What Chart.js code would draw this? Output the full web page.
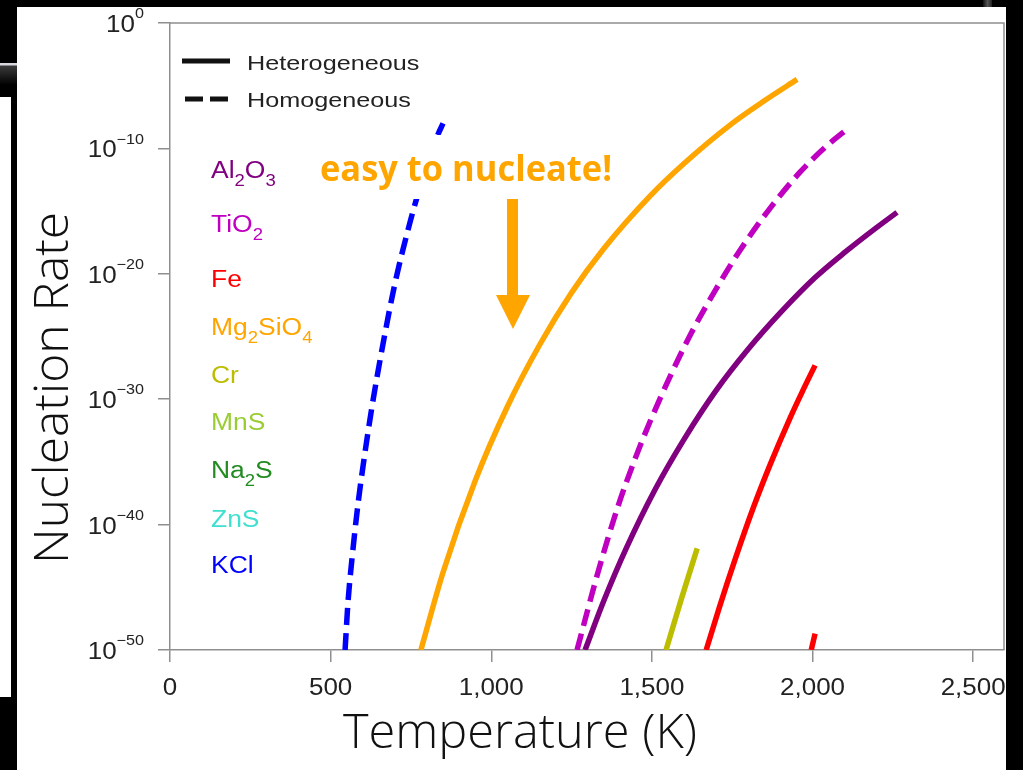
<!DOCTYPE html>
<html>
<head>
<meta charset="utf-8">
<script src="https://cdn.jsdelivr.net/npm/chart.js@4.4.1/dist/chart.umd.min.js"></script>
<style>
  html, body { margin: 0; padding: 0; background: #000; width: 1023px; height: 770px; overflow: hidden; }
  #panel { position: absolute; left: 17px; top: 7px; width: 989px; height: 763px; background: #fff; }
  #edgeWhite { position: absolute; left: 0; top: 97px; width: 11px; height: 600px; background: #fff; }
  #edgeGlow { position: absolute; left: 0; top: 63px; width: 17px; height: 34px;
              background: linear-gradient(#d8d8e0 0, #d8d8e0 2px, #3a3a3a 3px, #000 22px); }
  #topGlow { position: absolute; left: 983px; top: 0; width: 9px; height: 7px;
             background: linear-gradient(90deg, #111, #555, #222); }
  canvas { position: absolute; left: 0; top: 0; }
</style>
</head>
<body>
<div id="panel"></div>
<div id="edgeWhite"></div>
<div id="edgeGlow"></div>
<div id="topGlow"></div>
<canvas id="c" width="1023" height="770"></canvas>
<script>
// Axis ticks
const xTickValues = [0, 500, 1000, 1500, 2000, 2500];
const xTickLabels = ['0', '500', '1,000', '1,500', '2,000', '2,500'];
const yTickExponents = [0, -10, -20, -30, -40, -50];

// Nucleation rate curves: temperature (K) and log10 of the rate
const kclHomT   = [545, 554, 567, 585, 605, 630, 663, 700, 747, 790, 834, 850];
const kclHomLog = [-50, -46.2, -42.6, -38.4, -34.6, -30.4, -25.6, -20.8, -15.9, -12.1, -8.9, -8.0];

const mg2sio4HetT   = [781, 850, 950, 1050, 1152, 1250, 1350, 1494, 1600, 1750, 1850, 1952];
const mg2sio4HetLog = [-50, -43.8, -36.5, -30.6, -25.6, -21.5, -18.0, -13.8, -11.2, -8.0, -6.2, -4.5];

const tio2HomT   = [1267, 1330, 1395, 1450, 1494, 1560, 1619, 1700, 1775, 1870, 1961, 2040, 2111];
const tio2HomLog = [-50, -44.0, -38.5, -34.6, -31.8, -28.0, -24.9, -21.2, -18.1, -14.7, -11.9, -9.9, -8.4];

const al2o3HetT   = [1292, 1350, 1420, 1510, 1600, 1700, 1800, 1900, 2008, 2100, 2200, 2263];
const al2o3HetLog = [-50, -46.1, -41.9, -37.2, -33.2, -29.3, -26.0, -23.1, -20.3, -18.3, -16.3, -15.1];

const crHetT   = [1544, 1592, 1641];
const crHetLog = [-50, -45.9, -41.9];

const feHetT   = [1669, 1710, 1760, 1815, 1870, 1930, 1970, 2008];
const feHetLog = [-50, -46.6, -42.7, -38.7, -35.1, -31.5, -29.3, -27.3];

const feHomT   = [1996, 2008];
const feHomLog = [-50, -48.7];

// Species list (underscore marks a subscript character)
const speciesNames  = ['Al_2O_3', 'TiO_2', 'Fe', 'Mg_2SiO_4', 'Cr', 'MnS', 'Na_2S', 'ZnS', 'KCl'];
const speciesColors = ['#800080', '#C000C0', '#FF0000', '#FFA500', '#BDBD00', '#9ACD32', '#228B22', '#40E0D0', '#0000FF'];

const legendLabels = ['Heterogeneous', 'Homogeneous'];
const annotationText = 'easy to nucleate!';
const xTitle = 'Temperature (K)';
const yTitle = 'Nucleation Rate';

// ---------- drawing helpers ----------
const AXIS_GREY = '#8f8f8f';
const LABEL_FONT = '"Liberation Sans", Arial, Helvetica, sans-serif';
const TITLE_FONT = '"Open Sans", "Noto Sans", sans-serif';

function parseChem(s) {
  const runs = [];
  for (let i = 0; i < s.length; i++) {
    if (s[i] === '_') { runs.push({ t: s[i + 1], k: 'sub' }); i++; }
    else if (runs.length && runs[runs.length - 1].k === 'n') runs[runs.length - 1].t += s[i];
    else runs.push({ t: s[i], k: 'n' });
  }
  return runs;
}

// Draws runs of normal / subscript / superscript text, widened by sx.
function drawRuns(ctx, runs, x, y, o) {
  const sx = o.sx || 1;
  const fontFor = k => `${o.weight || 400} ${k === 'n' ? o.size : (o.size * (k === 'sub' ? 0.7 : 0.62)).toFixed(1)}px ${o.family}`;
  ctx.save();
  ctx.fillStyle = o.color;
  ctx.textBaseline = 'alphabetic';
  ctx.textAlign = 'left';
  let w = 0;
  runs.forEach(r => { ctx.font = fontFor(r.k); r.w = ctx.measureText(r.t).width; w += r.w; });
  const start = o.align === 'right' ? x - w * sx : o.align === 'center' ? x - w * sx / 2 : x;
  ctx.translate(start, y);
  ctx.scale(sx, 1);
  let cx = 0;
  runs.forEach(r => {
    ctx.font = fontFor(r.k);
    const dy = r.k === 'sub' ? o.size * 0.33 : r.k === 'sup' ? -o.size * 0.6 : 0;
    ctx.fillText(r.t, cx, dy);
    cx += r.w;
  });
  ctx.restore();
}

// Centred title text stretched along its run to a given length.
function drawTitle(ctx, text, cx, cy, angle, length) {
  ctx.save();
  ctx.font = `300 48px ${TITLE_FONT}`;
  const w = ctx.measureText(text).width;
  ctx.translate(cx, cy);
  ctx.rotate(angle);
  ctx.scale(length / w, 1);
  ctx.fillStyle = '#111';
  ctx.textAlign = 'center';
  ctx.textBaseline = 'alphabetic';
  ctx.fillText(text, 0, 0);
  ctx.restore();
}

const chartDecor = {
  id: 'chartDecor',
  beforeDatasetsDraw(chart) {
    const { ctx, chartArea: a } = chart;
    ctx.save();
    ctx.strokeStyle = AXIS_GREY;
    ctx.lineWidth = 1.5;
    ctx.beginPath();
    ctx.moveTo(a.left, a.top); ctx.lineTo(a.right, a.top); ctx.lineTo(a.right, a.bottom);
    ctx.stroke();
    ctx.restore();
  },
  afterDatasetsDraw(chart) {
    const { ctx, chartArea: a, scales: { x, y } } = chart;

    // tick labels
    xTickValues.forEach((v, i) => {
      drawRuns(ctx, [{ t: xTickLabels[i], k: 'n' }], x.getPixelForValue(v), a.bottom + 45,
               { size: 23, family: LABEL_FONT, color: '#222', sx: 1.13, align: 'center' });
    });
    yTickExponents.forEach(e => {
      const sup = e === 0 ? '0' : '\u2212' + Math.abs(e);
      drawRuns(ctx, [{ t: '10', k: 'n' }, { t: sup, k: 'sup' }], a.left - 26, y.getPixelForValue(e) + 9,
               { size: 23, family: LABEL_FONT, color: '#222', sx: 1.13, align: 'right' });
    });

    // line-style legend
    ctx.save();
    ctx.strokeStyle = '#111';
    ctx.lineWidth = 5;
    ctx.beginPath(); ctx.moveTo(182, 61); ctx.lineTo(230, 61); ctx.stroke();
    ctx.setLineDash([18, 7]);
    ctx.beginPath(); ctx.moveTo(185, 99); ctx.lineTo(229, 99); ctx.stroke();
    ctx.restore();
    drawRuns(ctx, [{ t: legendLabels[0], k: 'n' }], 247, 70, { size: 21, family: LABEL_FONT, color: '#222', sx: 1.2 });
    drawRuns(ctx, [{ t: legendLabels[1], k: 'n' }], 247, 107, { size: 21, family: LABEL_FONT, color: '#222', sx: 1.2 });

    // species colour key
    const baselines = [178, 232, 287, 335, 383, 430, 478, 527, 573];
    speciesNames.forEach((n, i) => {
      drawRuns(ctx, parseChem(n), 211, baselines[i], { size: 23, family: LABEL_FONT, color: speciesColors[i], sx: 1.15 });
    });

    // annotation with its arrow
    ctx.save();
    ctx.fillStyle = '#fff';
    ctx.fillRect(312, 135, 310, 64);
    ctx.restore();
    ctx.save();
    ctx.font = `700 36px ${TITLE_FONT}`;
    const aw = ctx.measureText(annotationText).width;
    ctx.restore();
    drawRuns(ctx, [{ t: annotationText, k: 'n' }], 320, 181,
             { size: 36, weight: 700, family: TITLE_FONT, color: '#FFA500', sx: 292 / aw });
    ctx.save();
    ctx.fillStyle = '#FFA500';
    ctx.fillRect(507, 199, 11, 98);
    ctx.beginPath(); ctx.moveTo(496, 295); ctx.lineTo(530, 295); ctx.lineTo(513, 329); ctx.closePath(); ctx.fill();
    ctx.restore();

    // axis titles
    drawTitle(ctx, xTitle, 520, 748, 0, 354);
    drawTitle(ctx, yTitle, 68, 388, -Math.PI / 2, 352);
  }
};

function series(T, L, color, dashed) {
  return {
    data: T.map((t, i) => ({ x: t, y: L[i] })),
    borderColor: color,
    borderWidth: 5.5,
    borderDash: dashed ? [17, 8] : [],
    borderCapStyle: 'butt',
    pointRadius: 0,
    cubicInterpolationMode: 'monotone',
    clip: 0,
    fill: false
  };
}

const gridOpts = { drawOnChartArea: false, drawTicks: true, tickLength: 12, color: AXIS_GREY, lineWidth: 1.5 };
const borderOpts = { display: true, color: AXIS_GREY, width: 1.5 };

new Chart(document.getElementById('c'), {
  type: 'line',
  data: {
    datasets: [
      series(kclHomT, kclHomLog, '#0000FF', true),
      series(mg2sio4HetT, mg2sio4HetLog, '#FFA500', false),
      series(tio2HomT, tio2HomLog, '#C000C0', true),
      series(al2o3HetT, al2o3HetLog, '#800080', false),
      series(crHetT, crHetLog, '#BDBD00', false),
      series(feHetT, feHetLog, '#FF0000', false),
      series(feHomT, feHomLog, '#FF0000', true)
    ]
  },
  options: {
    responsive: false,
    animation: false,
    devicePixelRatio: 1,
    layout: { padding: { top: 23, right: 19, left: 0, bottom: 0 } },
    plugins: { legend: { display: false }, tooltip: { enabled: false } },
    scales: {
      x: {
        type: 'linear', min: 0, max: 2596,
        afterFit: s => { s.height = 120; },
        afterBuildTicks: s => { s.ticks = xTickValues.map(v => ({ value: v })); },
        ticks: { display: false },
        grid: gridOpts, border: borderOpts
      },
      y: {
        type: 'linear', min: -50, max: 0,
        afterFit: s => { s.width = 170; },
        afterBuildTicks: s => { s.ticks = yTickExponents.map(v => ({ value: v })); },
        ticks: { display: false },
        grid: gridOpts, border: borderOpts
      }
    }
  },
  plugins: [chartDecor]
});
</script>
</body>
</html>
